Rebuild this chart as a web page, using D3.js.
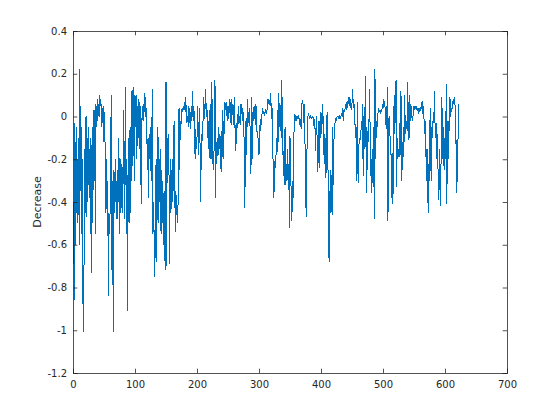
<!DOCTYPE html>
<html>
<head>
<meta charset="utf-8">
<script src="https://cdn.jsdelivr.net/npm/d3@7"></script>
<style>
html,body{margin:0;padding:0;background:#fff;}
svg{display:block;font-family:"DejaVu Sans",sans-serif;}
</style>
</head>
<body>
<svg id="chart" width="560" height="420"></svg>
<script>
const xTicks = [0,100,200,300,400,500,600,700];
const yTicks = [0.4,0.2,0,-0.2,-0.4,-0.6,-0.8,-1,-1.2];
const yLabel = "Decrease";

const decrease = [
// 0-76
-0.40,-0.86,-0.03,-0.60,-0.05,-0.45,-0.20,-0.50,-0.10,-0.60,
0.22,-0.35,-0.05,-0.55,-0.20,-0.85,-1.01,-0.60,-0.15,-0.45,
0.00,-0.47,-0.10,-0.40,-0.05,-0.38,-0.15,-0.55,-0.10,-0.73,
-0.05,-0.50,0.03,-0.30,0.03,-0.55,0.06,-0.05,0.08,-0.02,
0.06,0.00,0.10,0.05,0.08,-0.05,0.04,-0.03,0.05,-0.12,
0.02,-0.20,-0.45,-0.20,-0.47,-0.30,-0.84,-0.45,-0.55,-0.42,
-0.05,0.10,-0.79,-0.30,-1.01,-0.25,-0.45,-0.20,-0.40,-0.30,
-0.48,-0.25,-0.40,-0.10,-0.55,-0.20,-0.45,
// 77-153
-0.40,-0.22,-0.45,-0.25,0.03,-0.48,-0.30,0.14,-0.55,-0.20,
-0.91,-0.35,-0.10,-0.50,-0.05,-0.45,0.12,-0.30,0.05,0.14,
-0.10,-0.30,0.10,-0.05,0.10,-0.20,0.05,-0.10,0.08,-0.15,
0.07,-0.12,-0.41,-0.03,0.05,-0.02,0.06,0.02,0.11,0.00,
0.04,-0.05,-0.25,-0.10,-0.38,-0.08,-0.20,-0.05,-0.30,-0.10,
0.13,-0.55,-0.40,-0.60,-0.75,-0.45,-0.20,-0.68,-0.30,-0.05,
-0.50,-0.20,-0.40,-0.15,-0.55,-0.25,-0.50,-0.30,-0.60,-0.35,
-0.65,-0.72,0.16,-0.70,-0.10,-0.25,-0.08,
// 154-230
-0.30,-0.69,-0.20,-0.45,-0.25,-0.40,-0.20,-0.35,-0.02,-0.30,
-0.54,-0.35,-0.46,-0.42,-0.50,-0.28,0.04,-0.25,-0.02,-0.05,
0.02,0.04,0.02,0.05,0.03,0.07,0.02,0.09,-0.03,-0.01,
0.00,-0.05,0.05,-0.03,0.02,-0.06,0.05,0.00,0.12,-0.02,
0.05,-0.08,-0.20,-0.06,-0.15,-0.10,0.05,-0.18,-0.05,0.04,
-0.15,-0.40,-0.08,-0.12,-0.05,-0.01,0.09,-0.01,0.04,0.13,
0.00,0.06,-0.10,-0.02,-0.15,0.03,-0.20,0.06,-0.20,0.16,
-0.22,-0.18,-0.25,-0.05,0.17,-0.38,-0.12,
// 231-308
-0.22,-0.10,-0.18,-0.05,-0.15,-0.08,-0.20,-0.26,-0.12,0.03,
-0.20,-0.02,-0.08,0.07,0.03,0.07,0.02,-0.02,0.05,-0.01,
0.08,0.03,-0.03,0.08,-0.04,0.06,0.02,-0.04,0.09,-0.01,
-0.16,-0.03,-0.13,0.01,-0.05,0.05,-0.03,0.00,-0.04,0.06,
0.01,0.04,-0.02,0.02,-0.12,-0.43,-0.20,-0.02,-0.18,0.08,
-0.05,0.02,-0.02,0.04,-0.12,-0.27,0.09,-0.20,0.02,-0.02,
0.05,-0.01,0.06,-0.04,0.05,-0.10,-0.07,-0.15,-0.18,-0.04,
-0.07,-0.01,-0.04,0.02,0.04,0.01,0.02,0.01,
// 309-385
0.02,0.03,0.02,0.03,0.08,0.06,0.08,0.07,0.05,0.11,
-0.01,0.04,-0.12,-0.25,-0.38,-0.26,-0.20,-0.24,-0.10,-0.18,
0.03,-0.12,0.11,-0.05,0.02,-0.07,0.17,-0.10,0.09,-0.28,
-0.16,-0.32,-0.05,-0.32,-0.22,-0.30,-0.15,-0.33,-0.22,-0.52,
-0.09,-0.30,-0.34,-0.49,-0.30,-0.38,-0.12,-0.02,0.01,-0.02,
0.00,-0.02,0.00,-0.01,0.00,-0.01,-0.04,-0.01,-0.06,0.06,
0.07,0.06,-0.03,0.06,-0.10,-0.22,-0.47,-0.27,0.00,0.00,
0.01,0.00,-0.01,0.00,-0.01,-0.01,0.00,
// 386-463
0.00,-0.01,-0.06,-0.01,-0.16,-0.05,0.00,-0.15,-0.26,-0.02,
-0.24,-0.02,-0.10,0.02,-0.08,-0.01,0.06,-0.18,-0.08,-0.22,
-0.10,-0.29,-0.02,0.02,-0.18,-0.40,-0.68,-0.35,-0.45,-0.25,
-0.40,-0.46,-0.05,-0.32,-0.10,-0.05,-0.02,-0.01,-0.02,0.00,
0.00,0.00,-0.01,0.00,-0.01,0.00,0.01,0.00,0.04,-0.02,
0.03,0.02,0.04,0.06,0.03,0.07,0.04,0.09,0.06,0.09,
0.04,0.08,0.03,0.06,0.13,0.04,0.08,-0.02,-0.04,-0.10,
-0.05,-0.30,0.07,-0.31,-0.13,-0.12,-0.10,-0.11,
// 464-540
-0.02,-0.05,0.06,-0.28,0.00,-0.15,0.05,0.19,-0.36,-0.05,
-0.25,-0.03,-0.12,0.13,-0.01,-0.28,-0.20,-0.36,-0.15,-0.33,
-0.05,-0.48,0.22,-0.20,-0.07,-0.02,-0.05,0.02,0.04,0.02,
0.03,0.02,0.03,0.02,0.06,0.04,0.08,0.05,0.07,-0.04,
0.05,-0.06,0.14,-0.49,-0.02,0.00,-0.05,-0.18,-0.18,-0.38,
-0.17,-0.41,-0.12,0.10,-0.08,0.05,0.17,-0.33,-0.10,-0.20,
-0.15,-0.19,-0.03,-0.18,0.12,-0.30,-0.12,-0.25,-0.05,-0.12,
0.10,-0.08,-0.05,-0.02,-0.07,0.16,-0.11,
// 541-617
-0.10,0.10,-0.02,0.06,0.00,-0.01,-0.02,0.04,0.05,0.03,
0.05,0.04,0.05,0.03,0.04,0.01,0.04,0.03,0.04,0.03,
0.04,0.07,0.01,0.05,0.00,-0.08,-0.02,-0.12,-0.30,-0.15,
-0.33,-0.45,-0.22,-0.30,0.04,-0.22,-0.30,-0.05,-0.10,0.02,
-0.03,0.12,-0.05,-0.10,-0.03,-0.20,-0.08,-0.30,-0.39,-0.15,
-0.35,-0.42,-0.08,0.09,-0.20,-0.05,-0.22,-0.25,-0.10,-0.20,
0.15,-0.41,-0.02,-0.20,-0.02,-0.07,0.09,0.00,0.04,0.02,
0.07,0.06,0.08,0.07,0.09,-0.13,-0.11,
// 618-621
-0.36,-0.22,-0.10,0.06
];

const W = 560, H = 420;
const m = {left:73, right:53, top:31, bottom:47};
const svg = d3.select("#chart");
const x = d3.scaleLinear().domain([0,700]).range([m.left, W - m.right]);
const y = d3.scaleLinear().domain([-1.2,0.4]).range([H - m.bottom, m.top]);
const axisColor = "#262626";
const tl = 4.3;

// data line
const line = d3.line().x((d,i) => x(i+1)).y(d => y(d));
svg.append("path")
  .datum(decrease)
  .attr("d", line)
  .attr("fill","none")
  .attr("stroke","#0072BD")
  .attr("stroke-width",1)
  .attr("shape-rendering","crispEdges")
  .attr("stroke-linejoin","miter");

// axes
const fmt = d => d === 0 ? "0" : String(d);
const gx = svg.append("g").attr("transform",`translate(0,${y(-1.2)})`)
  .call(d3.axisBottom(x).tickValues(xTicks).tickSize(-tl).tickPadding(8).tickFormat(fmt));
const gxTop = svg.append("g").attr("transform",`translate(0,${y(0.4)})`)
  .call(d3.axisTop(x).tickValues(xTicks).tickSize(-tl).tickFormat(""));
const gy = svg.append("g").attr("transform",`translate(${x(0)},0)`)
  .call(d3.axisLeft(y).tickValues(yTicks).tickSize(-tl).tickPadding(6).tickFormat(fmt));
const gyR = svg.append("g").attr("transform",`translate(${x(700)},0)`)
  .call(d3.axisRight(y).tickValues(yTicks).tickSize(-tl).tickFormat(""));

[gx,gxTop,gy,gyR].forEach(g => {
  g.select(".domain").attr("stroke",axisColor).attr("stroke-width",0.8);
  g.selectAll(".tick line").attr("stroke",axisColor).attr("stroke-width",0.8);
  g.selectAll(".tick text").attr("fill",axisColor)
    .style("font-family","'DejaVu Sans',sans-serif").style("font-size","10px");
});

svg.append("text")
  .attr("transform",`translate(${38},${(y(0.4)+y(-1.2))/2}) rotate(-90)`)
  .attr("text-anchor","middle")
  .attr("dominant-baseline","middle")
  .attr("fill",axisColor)
  .style("font-family","'DejaVu Sans',sans-serif")
  .style("font-size","11px")
  .text(yLabel);
</script>
</body>
</html>
